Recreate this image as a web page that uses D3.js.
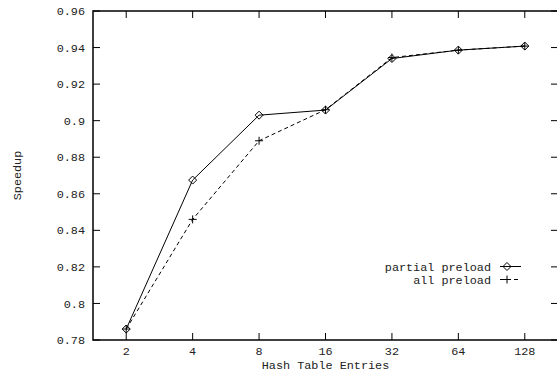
<!DOCTYPE html>
<html><head><meta charset="utf-8">
<script src="https://cdn.jsdelivr.net/npm/d3@7"></script>
<style>body{margin:0;background:#fff}svg{display:block}text{font-family:"Liberation Mono","DejaVu Sans Mono",monospace;font-size:11.8px;fill:#222}</style>
</head><body><svg id="c" width="557" height="377"></svg>
<script>
const categories = ["2","4","8","16","32","64","128"];
const partialPreload = [0.786,0.8675,0.903,0.9058,0.934,0.9386,0.9408];
const allPreload = [0.786,0.846,0.889,0.906,0.9345,0.9386,0.9408];
const yTicks = [0.78,0.8,0.82,0.84,0.86,0.88,0.9,0.92,0.94,0.96];
const yTickLabels = ["0.78","0.8","0.82","0.84","0.86","0.88","0.9","0.92","0.94","0.96"];
const seriesNames = ["partial preload","all preload"];

const svg = d3.select("#c");
const L=93, R=558, T=11, B=340;
const x = d3.scalePoint().domain(categories).range([L,R]).padding(0.5);
const y = d3.scaleLinear().domain([0.78,0.96]).range([B,T]);
const tl = 7;

yTicks.forEach((v,i)=>{
  const yy = y(v);
  svg.append("line").attr("x1",L).attr("x2",L+tl).attr("y1",yy).attr("y2",yy).attr("stroke","#000").attr("stroke-width",1);
  svg.append("line").attr("x1",R-tl).attr("x2",R).attr("y1",yy).attr("y2",yy).attr("stroke","#000").attr("stroke-width",1);
  svg.append("text").attr("x",85).attr("y",yy).attr("dy","0.35em").attr("text-anchor","end").text(yTickLabels[i]);
});
categories.forEach(c=>{
  const xx = x(c);
  svg.append("line").attr("x1",xx).attr("x2",xx).attr("y1",B).attr("y2",B-tl).attr("stroke","#000");
  svg.append("line").attr("x1",xx).attr("x2",xx).attr("y1",T).attr("y2",T+tl).attr("stroke","#000");
  svg.append("text").attr("x",xx).attr("y",355).attr("text-anchor","middle").text(c);
});
svg.append("rect").attr("x",L).attr("y",T).attr("width",R-L).attr("height",B-T).attr("fill","none").attr("stroke","#000").attr("stroke-width",1.5);

svg.append("text").attr("x",(L+R)/2).attr("y",369).attr("text-anchor","middle").text("Hash Table Entries");
svg.append("text").attr("transform",`translate(21,${(T+B)/2}) rotate(-90)`).attr("text-anchor","middle").text("Speedup");

const line = d3.line().x((d,i)=>x(categories[i])).y(d=>y(d));
svg.append("path").datum(allPreload).attr("d",line).attr("fill","none").attr("stroke","#000").attr("stroke-width",1).attr("stroke-dasharray","4,3");
svg.append("path").datum(partialPreload).attr("d",line).attr("fill","none").attr("stroke","#000").attr("stroke-width",1);

function diamond(g,cx,cy){ g.append("path").attr("d",`M${cx-4},${cy}L${cx},${cy-4}L${cx+4},${cy}L${cx},${cy+4}Z`).attr("fill","none").attr("stroke","#000").attr("stroke-width",1); }
function plus(g,cx,cy){ g.append("path").attr("d",`M${cx-4},${cy}H${cx+4}M${cx},${cy-4}V${cy+4}`).attr("fill","none").attr("stroke","#000").attr("stroke-width",1); }
partialPreload.forEach((v,i)=>diamond(svg,x(categories[i]),y(v)));
allPreload.forEach((v,i)=>plus(svg,x(categories[i]),y(v)));

const ly=[266.5,279.5];
svg.append("text").attr("x",491).attr("y",ly[0]).attr("dy","0.35em").attr("text-anchor","end").text(seriesNames[0]);
svg.append("text").attr("x",491).attr("y",ly[1]).attr("dy","0.35em").attr("text-anchor","end").text(seriesNames[1]);
svg.append("line").attr("x1",500).attr("x2",521).attr("y1",ly[0]).attr("y2",ly[0]).attr("stroke","#000");
svg.append("line").attr("x1",500).attr("x2",521).attr("y1",ly[1]).attr("y2",ly[1]).attr("stroke","#000").attr("stroke-dasharray","4,3");
diamond(svg,507,ly[0]);
plus(svg,507,ly[1]);
</script></body></html>
